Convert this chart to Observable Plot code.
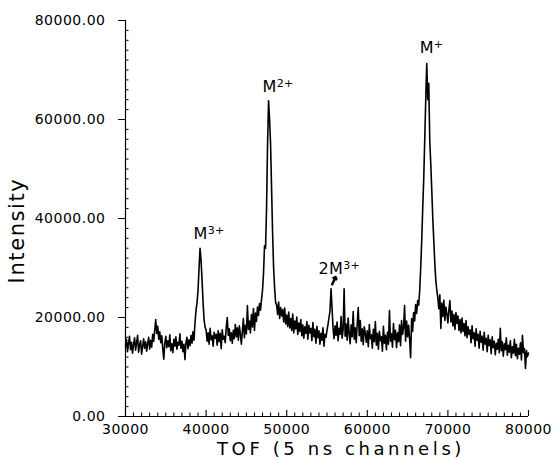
<!DOCTYPE html>
<html>
<head>
<meta charset="utf-8">
<script src="https://cdn.jsdelivr.net/npm/d3@7"></script>
<script src="https://cdn.jsdelivr.net/npm/@observablehq/plot@0.6"></script>
<style>
  html, body { margin: 0; padding: 0; background: #fff; }
  svg { display: block; }
</style>
</head>
<body>
<div id="chart"></div>
<script>
// TOF channel (5 ns channels)
const tof = [
30000,30125,30250,30375,30500,30625,30750,30875,
31000,31125,31250,31375,31500,31625,31750,31875,
32000,32125,32250,32375,32500,32625,32750,32875,
33000,33125,33250,33375,33500,33625,33750,33875,
34000,34125,34250,34375,34500,34625,34750,34875,
35000,35125,35250,35375,35500,35625,35750,35875,
36000,36125,36250,36375,36500,36625,36750,36875,
37000,37125,37250,37375,37500,37625,37750,37875,
38000,38125,38250,38375,38500,38625,38750,38875,
39000,39125,39250,39375,39500,39625,39750,39875,
40000,40125,40250,40375,40500,40625,40750,40875,
41000,41125,41250,41375,41500,41625,41750,41875,
42000,42125,42250,42375,42500,42625,42750,42875,
43000,43125,43250,43375,43500,43625,43750,43875,
44000,44125,44250,44375,44500,44625,44750,44875,
45000,45125,45250,45375,45500,45625,45750,45875,
46000,46125,46250,46375,46500,46625,46750,46875,
47000,47125,47250,47375,47500,47625,47750,47875,
48000,48125,48250,48375,48500,48625,48750,48875,
49000,49125,49250,49375,49500,49625,49750,49875,
50000,50125,50250,50375,50500,50625,50750,50875,
51000,51125,51250,51375,51500,51625,51750,51875,
52000,52125,52250,52375,52500,52625,52750,52875,
53000,53125,53250,53375,53500,53625,53750,53875,
54000,54125,54250,54375,54500,54625,54750,54875,
55000,55125,55250,55375,55500,55625,55750,55875,
56000,56125,56250,56375,56500,56625,56750,56875,
57000,57125,57250,57375,57500,57625,57750,57875,
58000,58125,58250,58375,58500,58625,58750,58875,
59000,59125,59250,59375,59500,59625,59750,59875,
60000,60125,60250,60375,60500,60625,60750,60875,
61000,61125,61250,61375,61500,61625,61750,61875,
62000,62125,62250,62375,62500,62625,62750,62875,
63000,63125,63250,63375,63500,63625,63750,63875,
64000,64125,64250,64375,64500,64625,64750,64875,
65000,65125,65250,65375,65500,65625,65750,65875,
66000,66125,66250,66375,66500,66625,66750,66875,
67000,67125,67250,67375,67500,67625,67750,67875,
68000,68125,68250,68375,68500,68625,68750,68875,
69000,69125,69250,69375,69500,69625,69750,69875,
70000,70125,70250,70375,70500,70625,70750,70875,
71000,71125,71250,71375,71500,71625,71750,71875,
72000,72125,72250,72375,72500,72625,72750,72875,
73000,73125,73250,73375,73500,73625,73750,73875,
74000,74125,74250,74375,74500,74625,74750,74875,
75000,75125,75250,75375,75500,75625,75750,75875,
76000,76125,76250,76375,76500,76625,76750,76875,
77000,77125,77250,77375,77500,77625,77750,77875,
78000,78125,78250,78375,78500,78625,78750,78875,
79000,79125,79250,79375,79500,79625,79750,79875,
80000
];

// Intensity
const intensity = [
14200,15600,13100,14800,16200,13500,15000,12800,14600,15900,
13400,14900,16400,13000,14500,15300,12600,14100,15700,13800,
15100,13200,14700,16000,13600,15400,14000,16600,15200,17400,
19600,16800,18200,15600,17100,14900,16300,13700,11600,14800,
16200,13900,15300,14100,16500,13300,14700,12900,15600,14200,
16100,13600,15000,14400,16700,13800,15200,13100,14600,11500,
14900,16000,13700,15500,14300,16400,14800,17100,15400,19000,
21500,23000,25500,30000,34000,31500,27500,23000,19500,18000,
17500,15200,16900,14600,17800,15500,16300,14200,17000,15800,
16600,14400,17300,15100,16800,13700,17500,15600,16200,14900,
18000,20000,16400,17700,15300,16900,14800,17400,15700,18600,
16100,17900,15400,18300,16600,14600,17200,19800,15900,18400,
16700,22400,17600,19300,16900,20600,18100,21800,17400,20900,
19200,22100,20400,22800,21500,23600,25500,29000,34500,34000,
42000,55000,63800,60000,55000,46000,37000,30000,26000,23000,
22500,20600,23100,19800,22000,20300,21600,19100,21900,18700,
20500,18200,21100,17900,19800,17400,20700,16900,19300,17700,
20100,16600,18900,17200,19600,16300,18500,15800,18100,16800,
19200,15600,18400,16900,17800,15300,19000,16100,17600,14800,
18200,15900,17300,14600,16800,15400,17900,14200,16600,16000,
17400,18600,20000,21400,25800,22000,17900,15700,18300,16400,
19100,15300,17800,16600,20200,15800,17600,25800,16200,18700,
15400,19900,16800,14700,18500,16100,21200,15600,17900,14900,
18800,22000,16300,19400,15200,17700,14500,18100,16900,15000,
17300,14100,18600,15700,16500,13800,17600,15100,19200,14400,
16800,13600,17200,15300,16100,13200,18200,14800,16400,13500,
17000,14600,21400,15200,16700,14000,18800,15500,17400,13900,
16900,15100,18500,14300,19400,16600,17900,22400,15200,19300,
16100,18400,15600,11900,19800,17200,21000,19300,22600,20800,
23400,22500,25400,30000,35500,42000,48000,55800,64000,71300,
64000,67300,55800,51000,45700,40000,35500,31000,27500,25500,
24000,21800,24600,17800,22900,20200,23500,19400,22100,20700,
18900,21600,23400,19100,21300,18300,20600,17600,21000,18800,
20300,17400,19600,16900,19900,17200,18800,16300,19400,15900,
18100,16600,17500,14900,18300,15700,16900,14200,17700,15400,
16600,13800,17200,15000,16200,13400,17000,14600,15800,13100,
16400,14300,15500,12700,16100,13900,15200,12500,14800,13600,
15600,12900,17800,13300,15100,12200,14700,13500,15900,12400,
14400,13000,15300,11900,14100,12800,15600,12300,14600,11700,
13800,12600,14900,11400,16400,12900,13700,9700,13300,12100,
12800
];

// Axis ticks and labels
const xTicks = [30000, 40000, 50000, 60000, 70000, 80000];
const xTickLabels = ["30000", "40000", "50000", "60000", "70000", "80000"];
const yTicks = [0, 20000, 40000, 60000, 80000];
const yTickLabels = ["0.00", "20000.00", "40000.00", "60000.00", "80000.00"];
const xTitle = "TOF (5 ns channels)";
const yTitle = "Intensity";

// Peak annotations (ion label + charge superscript)
const annBase = ["M", "M", "2M", "M"];
const annSup = ["3+", "2+", "3+", "+"];
const annTof = [38450, 47000, 53950, 66500];
const annIntensity = [36800, 66500, 29900, 74500];
const arrowTof = [55650];
const arrowIntensity = [26700];

if (tof.length !== intensity.length) throw new Error("length mismatch " + tof.length + " vs " + intensity.length);

const data = tof.map((t, i) => ({tof: t, intensity: intensity[i]}));
const labels = annBase.map((b, i) => ({text: b + annSup[i], base: b, sup: annSup[i], tof: annTof[i], intensity: annIntensity[i]}));
const arrows = arrowTof.map((t, i) => ({tof: t, intensity: arrowIntensity[i]}));
const xMinor = d3.range(31000, 80000, 1000).filter(v => !xTicks.includes(v));
const yMinor = d3.range(2000, 80000, 2000).filter(v => !yTicks.includes(v));

const chart = Plot.plot({
  width: 552,
  height: 460,
  marginLeft: 125,
  marginRight: 24,
  marginTop: 20,
  marginBottom: 44,
  style: {fontFamily: "'DejaVu Sans', sans-serif", fontSize: "14px", color: "black", background: "white", overflow: "visible"},
  x: {domain: [30000, 80000]},
  y: {domain: [0, 80000]},
  marks: [
    Plot.ruleY([0], {stroke: "black", strokeWidth: 1.2}),
    Plot.ruleX([30000], {stroke: "black", strokeWidth: 1.2}),
    Plot.tickX(xTicks, {x: d => d, insetTop: 390, stroke: "black", strokeWidth: 1.1}),
    Plot.tickX(xMinor, {x: d => d, insetTop: 392.5, stroke: "black", strokeWidth: 1}),
    Plot.tickY(yMinor, {y: d => d, insetRight: 399.5, stroke: "black", strokeWidth: 1}),
    Plot.axisY(yTicks, {tickSize: 7, tickPadding: 13, tickFormat: d => yTickLabels[yTicks.indexOf(d)], label: null, fontSize: 14, stroke: "black"}),
    Plot.axisX(xTicks, {tickSize: 0, tickPadding: 8, tickFormat: d => xTickLabels[xTicks.indexOf(d)], label: null, fontSize: 14}),
    Plot.line(data, {x: "tof", y: "intensity", stroke: "black", strokeWidth: 1.6}),
    Plot.text(labels, {x: "tof", y: "intensity", text: "text", textAnchor: "start", fontSize: 16, fill: "black"}),
    Plot.vector(arrows, {x: "tof", y: "intensity", length: 8, rotate: 25, anchor: "start", stroke: "black", strokeWidth: 2.5}),
    Plot.text([yTitle], {frameAnchor: "left", textAnchor: "middle", lineAnchor: "middle", rotate: -90, dx: -108, dy: 12, fontSize: 21, fill: "black"}),
    Plot.text([xTitle], {frameAnchor: "bottom", textAnchor: "middle", lineAnchor: "middle", dx: 14, dy: 33, fontSize: 18, fill: "black"})
  ]
});

document.getElementById("chart").appendChild(chart);
const svg = d3.select(chart);
svg.selectAll("text").style("letter-spacing", "0.5px");
svg.selectAll("text").filter(function() { return this.textContent === yTitle; }).style("letter-spacing", "1.6px");
svg.selectAll("text").filter(function() { return this.textContent === xTitle; }).style("letter-spacing", "3.6px");
// superscript charges on the peak labels
labels.forEach(l => {
  svg.selectAll("text").filter(function() { return this.textContent === l.text; }).each(function() {
    const t = d3.select(this);
    t.text(null).style("letter-spacing", "0.3px");
    t.append("tspan").text(l.base);
    t.append("tspan").attr("dy", "-5").attr("font-size", "11px").text(l.sup);
  });
});
</script>
</body>
</html>
